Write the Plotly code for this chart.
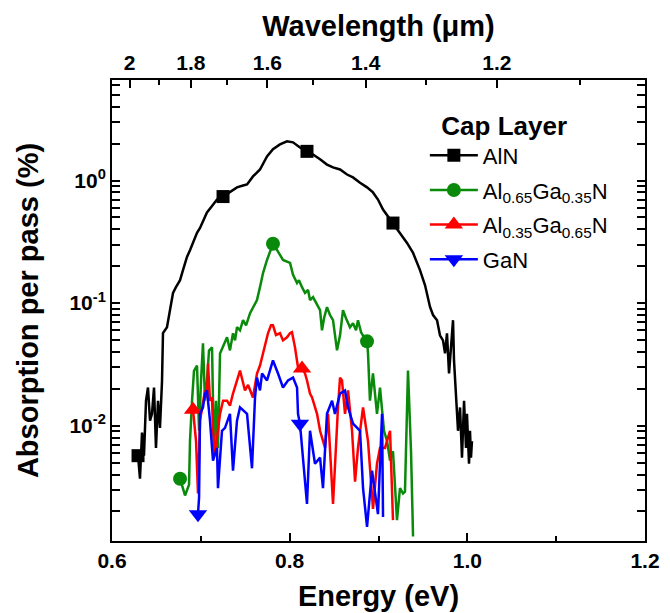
import plotly.graph_objects as go

# ---------------- data ----------------
aln_e = [0.6236, 0.6293, 0.6315, 0.6338, 0.6360, 0.6383, 0.6405, 0.6428, 0.6450, 0.6473,
         0.6495, 0.6518, 0.6540, 0.6563, 0.6574, 0.6619, 0.6653, 0.6687, 0.6720, 0.6766,
         0.6799, 0.6844, 0.6878, 0.6912, 0.6957, 0.6991, 0.7024, 0.7069, 0.7126, 0.7182,
         0.7250, 0.7328, 0.7407, 0.7475, 0.7520, 0.7587, 0.7666, 0.7745, 0.7812, 0.7891,
         0.7970, 0.8038, 0.8116, 0.8195, 0.8263, 0.8342, 0.8420, 0.8488, 0.8567, 0.8646,
         0.8713, 0.8792, 0.8871, 0.8938, 0.8994, 0.9051, 0.9107, 0.9163, 0.9242, 0.9321,
         0.9389, 0.9467, 0.9524, 0.9580, 0.9614, 0.9659, 0.9692, 0.9726, 0.9749, 0.9771,
         0.9794, 0.9839, 0.9850, 0.9861, 0.9884, 0.9895, 0.9918, 0.9940, 0.9963, 0.9985,
         0.9996, 1.0019, 1.0030, 1.0041, 1.0052]
aln_v = [0.0057, 0.0057, 0.0037, 0.0088, 0.0057, 0.016, 0.0205, 0.011, 0.0125, 0.0205,
         0.0066, 0.016, 0.0096, 0.023, 0.057, 0.0636, 0.088, 0.121, 0.135, 0.154,
         0.186, 0.238, 0.27, 0.31, 0.375, 0.41, 0.46, 0.55, 0.62, 0.70,
         0.74, 0.81, 0.88, 0.91, 0.93, 1.08, 1.23, 1.57, 1.80, 1.97,
         2.09, 2.05, 1.86, 1.73, 1.63, 1.49, 1.35, 1.28, 1.23, 1.12,
         1.06, 0.96, 0.88, 0.80, 0.70, 0.58, 0.51, 0.45, 0.375, 0.31,
         0.257, 0.186, 0.14, 0.093, 0.080, 0.0726, 0.0547, 0.0497, 0.0389, 0.0568,
         0.0267, 0.0726, 0.0341, 0.0234, 0.0133, 0.0091, 0.0141, 0.0055, 0.016, 0.0066,
         0.0125, 0.0049, 0.0091, 0.0055, 0.0075]
aln_marks = [1, 30, 43, 57]

g65_e = [0.6766, 0.6822, 0.6867, 0.6878, 0.6901, 0.6923, 0.6957, 0.6980, 0.7002, 0.7024,
         0.7047, 0.7069, 0.7092, 0.7126, 0.7148, 0.7171, 0.7193, 0.7216, 0.7295, 0.7328,
         0.7362, 0.7385, 0.7407, 0.7441, 0.7475, 0.7509, 0.7554, 0.7587, 0.7632, 0.7666,
         0.7700, 0.7745, 0.7779, 0.7812, 0.7857, 0.7925, 0.8004, 0.8038, 0.8083, 0.8105,
         0.8139, 0.8173, 0.8207, 0.8229, 0.8263, 0.8308, 0.8342, 0.8364, 0.8387, 0.8420,
         0.8454, 0.8488, 0.8510, 0.8533, 0.8567, 0.8600, 0.8634, 0.8679, 0.8713, 0.8747,
         0.8769, 0.8804, 0.8837, 0.8871, 0.8882, 0.8904, 0.8938, 0.8983, 0.9017, 0.9062,
         0.9096, 0.9130, 0.9163, 0.9186, 0.9208, 0.9242, 0.9276, 0.9298, 0.9332, 0.9366,
         0.9389]
g65_v = [0.0037, 0.0027, 0.0033, 0.0075, 0.016, 0.028, 0.031, 0.0091, 0.023, 0.047,
         0.016, 0.023, 0.041, 0.0436, 0.0057, 0.016, 0.0066, 0.0389, 0.0527, 0.0412,
         0.0568, 0.0497, 0.0636, 0.060, 0.0726, 0.066, 0.0828, 0.0927, 0.106, 0.135,
         0.176, 0.225, 0.262, 0.305, 0.272, 0.225, 0.213, 0.17, 0.146, 0.154,
         0.135, 0.121, 0.128, 0.106, 0.112, 0.0964, 0.0877, 0.060, 0.0753, 0.0927,
         0.080, 0.0726, 0.0568, 0.0412, 0.0547, 0.0877, 0.0753, 0.0636, 0.0686, 0.060,
         0.0726, 0.0578, 0.0527, 0.0488, 0.0389, 0.016, 0.0267, 0.0125, 0.0205, 0.0091,
         0.0075, 0.0052, 0.0062, 0.0031, 0.0017, 0.0031, 0.0028, 0.0029, 0.0282, 0.0062,
         0.00125]
g65_marks = [0, 33, 63]

g35_e = [0.6878, 0.6912, 0.6946, 0.6968, 0.6991, 0.7024, 0.7047, 0.7069, 0.7081, 0.7103,
         0.7126, 0.7137, 0.7160, 0.7216, 0.7250, 0.7295, 0.7328, 0.7362, 0.7441, 0.7497,
         0.7532, 0.7587, 0.7632, 0.7666, 0.7700, 0.7734, 0.7756, 0.7790, 0.7812, 0.7846,
         0.7891, 0.7925, 0.7970, 0.8004, 0.8026, 0.8060, 0.8094, 0.8139, 0.8173, 0.8195,
         0.8229, 0.8252, 0.8308, 0.8342, 0.8398, 0.8432, 0.8488, 0.8544, 0.8567, 0.8589,
         0.8623, 0.8657, 0.8702, 0.8736, 0.8769, 0.8826, 0.8882, 0.8938, 0.8983, 0.9017,
         0.9073, 0.9130, 0.9163]
g35_v = [0.0129, 0.0135, 0.0075, 0.0028, 0.011, 0.016, 0.0194, 0.017, 0.0322, 0.016,
         0.017, 0.0091, 0.006, 0.0125, 0.016, 0.016, 0.0146, 0.0183, 0.0282, 0.0194,
         0.0215, 0.017, 0.0267, 0.031, 0.0389, 0.0497, 0.0568, 0.066, 0.066, 0.055,
         0.0568, 0.0497, 0.0527, 0.0568, 0.058, 0.0436, 0.0299, 0.0293, 0.0267, 0.0234,
         0.0183, 0.017, 0.0125, 0.0091, 0.0066, 0.0125, 0.0023, 0.0141, 0.0247, 0.0234,
         0.0125, 0.0194, 0.0091, 0.0035, 0.0066, 0.0141, 0.0075, 0.0021, 0.0049, 0.0066,
         0.0066, 0.0091, 0.0017]
g35_marks = [1, 37]

gan_e = [0.6968, 0.6980, 0.6991, 0.7024, 0.7047, 0.7069, 0.7103, 0.7137, 0.7182, 0.7193,
         0.7238, 0.7272, 0.7328, 0.7362, 0.7407, 0.7441, 0.7520, 0.7576, 0.7610, 0.7632,
         0.7666, 0.7689, 0.7745, 0.7812, 0.7869, 0.7925, 0.7981, 0.8038, 0.8083, 0.8094,
         0.8116, 0.8139, 0.8195, 0.8229, 0.8285, 0.8342, 0.8375, 0.8420, 0.8477, 0.8510,
         0.8567, 0.8623, 0.8657, 0.8713, 0.8792, 0.8826, 0.8871, 0.8927, 0.8961, 0.8994,
         0.9040, 0.9051]
gan_v = [0.0019, 0.0026, 0.0125, 0.0141, 0.0183, 0.0194, 0.011, 0.0052, 0.0066, 0.0031,
         0.0091, 0.0096, 0.0125, 0.0043, 0.011, 0.0141, 0.0125, 0.0045, 0.017, 0.0247,
         0.0194, 0.0267, 0.0234, 0.0341, 0.0267, 0.0205, 0.0234, 0.0247, 0.0205, 0.0125,
         0.0104, 0.0066, 0.0023, 0.0091, 0.0049, 0.0055, 0.0031, 0.0125, 0.016, 0.0125,
         0.0183, 0.0194, 0.0141, 0.0104, 0.0091, 0.0031, 0.0015, 0.0043, 0.0029, 0.0019,
         0.0125, 0.0018]
gan_marks = [0, 30]

series_names = ["AlN", "Al<sub>0.65</sub>Ga<sub>0.35</sub>N",
                "Al<sub>0.35</sub>Ga<sub>0.65</sub>N", "GaN"]
energy_ticks = [0.6, 0.8, 1.0, 1.2]
energy_minor = [0.7, 0.9, 1.1]
wl_major = [2.0, 1.8, 1.6, 1.4, 1.2]
wl_major_text = ["2", "1.8", "1.6", "1.4", "1.2"]
wl_minor = [1.9, 1.7, 1.5, 1.3, 1.1]
hc = 1.23984  # eV*um

# ---------------- figure ----------------
FONT = "Liberation Sans, Arial, sans-serif"
colors = ["#000000", "#0a8a0a", "#ff0000", "#0000ff"]
symbols = ["square", "circle", "triangle-up", "triangle-down"]
msizes = [13, 14, 16, 16]

data = [(aln_e, aln_v, aln_marks), (g65_e, g65_v, g65_marks),
        (g35_e, g35_v, g35_marks), (gan_e, gan_v, gan_marks)]

fig = go.Figure()
for i, (e, v, mk) in enumerate(data):
    fig.add_trace(go.Scatter(x=e, y=v, mode="lines", showlegend=False,
                             line=dict(color=colors[i], width=2.5)))
    fig.add_trace(go.Scatter(x=[e[k] for k in mk], y=[v[k] for k in mk], mode="markers",
                             showlegend=False,
                             marker=dict(symbol=symbols[i], size=msizes[i], color=colors[i])))
# legend entries (line + symbol), placed on the top axis subplot
for i in range(4):
    fig.add_trace(go.Scatter(x=[None], y=[None], mode="lines+markers", name=series_names[i],
                             xaxis="x2", legendgroup="g%d" % i,
                             line=dict(color=colors[i], width=2.5),
                             marker=dict(symbol=symbols[i], size=msizes[i], color=colors[i])))

y_minor = [m * 10.0 ** d for d in range(-3, 1) for m in range(2, 10)]

axis_common = dict(showline=True, linecolor="black", linewidth=2, ticks="inside",
                   tickcolor="black", tickwidth=2, showgrid=False, zeroline=False,
                   automargin=False)
TICKF = dict(size=21, family=FONT, weight="bold")
TITLEF = dict(size=29, family=FONT, weight="bold")

fig.update_layout(
    template="none",
    width=662, height=605,
    margin=dict(l=104, r=25, t=72, b=72, autoexpand=False),
    paper_bgcolor="white", plot_bgcolor="white",
    font=dict(family=FONT, color="black"),
    xaxis=dict(range=[0.6, 1.2], tickvals=energy_ticks, tickformat=".1f", ticklen=8,
               tickfont=TICKF,
               title=dict(text="Energy (eV)", font=TITLEF, standoff=14),
               minor=dict(tickmode="array", tickvals=energy_minor, ticklen=5,
                          tickcolor="black", tickwidth=2, ticks="inside"),
               mirror=False, **axis_common),
    xaxis2=dict(range=[0.6, 1.2], overlaying="x", side="top", anchor="y",
                tickvals=[hc / w for w in wl_major], ticktext=wl_major_text, ticklen=8,
                tickfont=TICKF,
                title=dict(text="Wavelength (\u03bcm)", font=TITLEF, standoff=5),
                minor=dict(tickmode="array", tickvals=[hc / w for w in wl_minor], ticklen=5,
                           tickcolor="black", tickwidth=2, ticks="inside"),
                **axis_common),
    yaxis=dict(type="log", range=[-2.94, 0.82],
               tickvals=[1, 0.1, 0.01], ticktext=["10<sup>0</sup>", "10<sup>-1</sup>", "10<sup>-2</sup>"],
               ticklen=8, mirror="allticks",
               tickfont=TICKF,
               title=dict(text="Absorption per pass (%)", font=TITLEF, standoff=22),
               minor=dict(tickmode="array", tickvals=y_minor, ticklen=5,
                          tickcolor="black", tickwidth=2, ticks="inside"),
               **axis_common),
    legend=dict(x=0.587, y=0.955, xanchor="left", yanchor="top",
                bgcolor="rgba(0,0,0,0)", borderwidth=0,
                font=dict(size=22, family=FONT),
                title=dict(text="\u00a0\u00a0Cap Layer", font=dict(size=26, family=FONT, weight="bold"),
                           side="top"),
                traceorder="grouped", tracegroupgap=3, itemwidth=48),
)

fig.write_html("out.html")
